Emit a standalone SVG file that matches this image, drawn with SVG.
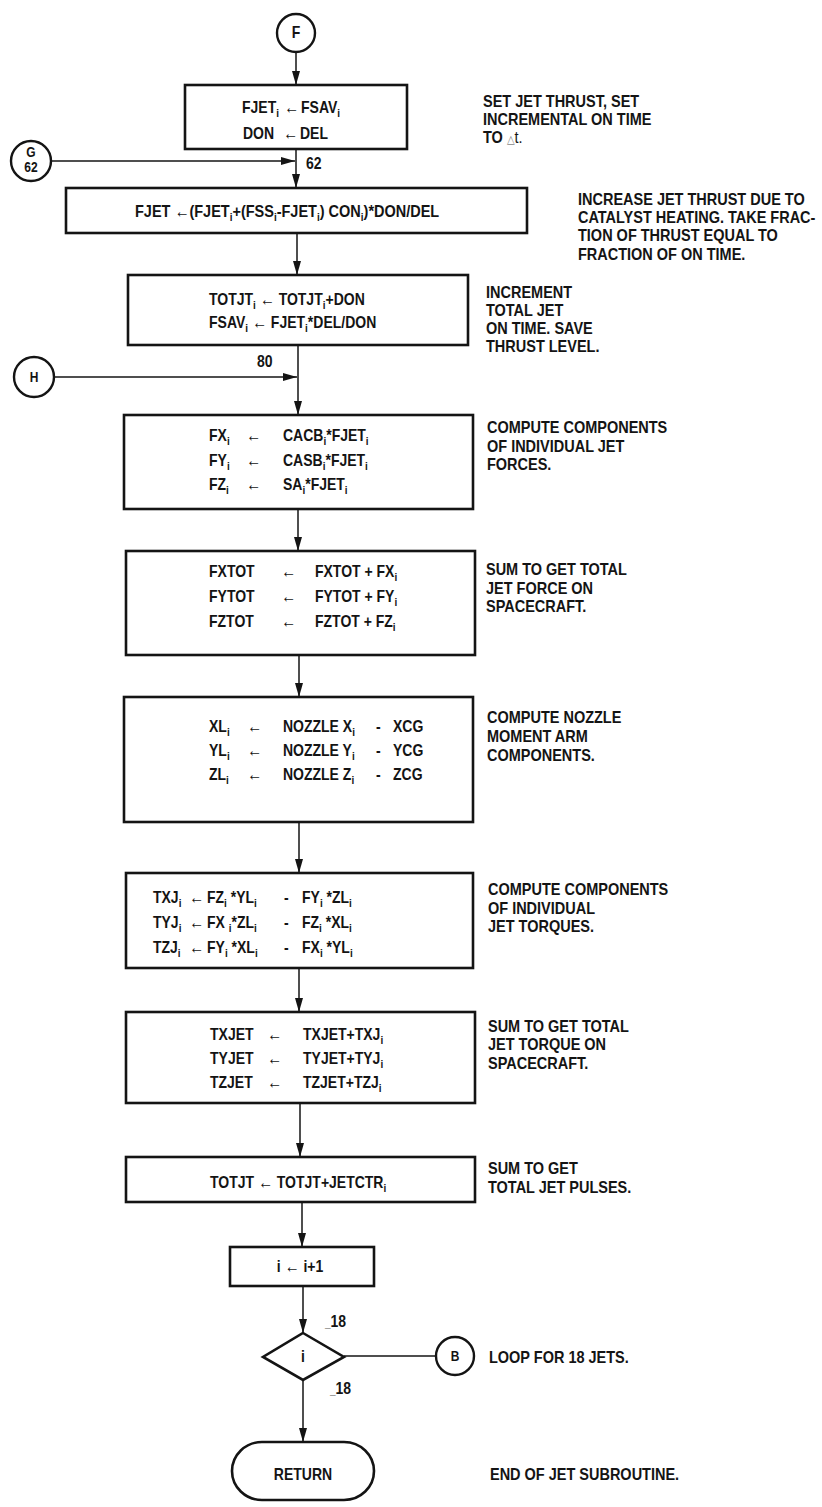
<svg xmlns="http://www.w3.org/2000/svg" width="822" height="1507" viewBox="0 0 822 1507">
<style>
.box{fill:none;stroke:#141414;stroke-width:2.6}
.cir{fill:#fff;stroke:#141414;stroke-width:2.4}
.ln{fill:none;stroke:#141414;stroke-width:1.5}
text{font-family:"Liberation Sans",Arial,"DejaVu Sans",sans-serif;font-weight:bold;font-size:14px;fill:#141414;transform-box:fill-box;transform-origin:0 81%;transform:scale(1,1.15)}
.nt{font-size:14.5px}
.ar{font-weight:normal;font-size:15px}
.c{text-anchor:middle}
.s{font-size:10px}
.sm{font-size:12px}
.tri{font-weight:normal;font-size:10px;fill:#888}
.tt{font-weight:normal}
</style>
<defs>
<marker id="ah" markerUnits="userSpaceOnUse" viewBox="0 0 14 8" refX="14" refY="4" markerWidth="14" markerHeight="8" orient="auto">
<path d="M0,0 L14,4 L0,8 z" fill="#141414"/>
</marker>
</defs>
<rect x="0" y="0" width="822" height="1507" fill="#fff"/>

<g id="connectors">
<line class="ln" x1="296" y1="52" x2="296" y2="85" marker-end="url(#ah)"/>
<line class="ln" x1="51" y1="161" x2="295" y2="161" marker-end="url(#ah)"/>
<line class="ln" x1="296" y1="149" x2="296" y2="188" marker-end="url(#ah)"/>
<line class="ln" x1="297" y1="233" x2="297" y2="275" marker-end="url(#ah)"/>
<line class="ln" x1="54" y1="377" x2="297" y2="377" marker-end="url(#ah)"/>
<line class="ln" x1="298" y1="345" x2="298" y2="415" marker-end="url(#ah)"/>
<line class="ln" x1="298" y1="509" x2="298" y2="551" marker-end="url(#ah)"/>
<line class="ln" x1="299" y1="655" x2="299" y2="697" marker-end="url(#ah)"/>
<line class="ln" x1="299" y1="822" x2="299" y2="873" marker-end="url(#ah)"/>
<line class="ln" x1="299" y1="968" x2="299" y2="1012" marker-end="url(#ah)"/>
<line class="ln" x1="300" y1="1103" x2="300" y2="1157" marker-end="url(#ah)"/>
<line class="ln" x1="302" y1="1202" x2="302" y2="1247" marker-end="url(#ah)"/>
<line class="ln" x1="303" y1="1286" x2="303" y2="1333" marker-end="url(#ah)"/>
<line class="ln" x1="344" y1="1356" x2="436" y2="1356"/>
<line class="ln" x1="303" y1="1380" x2="303" y2="1442" marker-end="url(#ah)"/>
<text x="306" y="169">62</text>
<text x="257" y="367">80</text>
<text x="325" y="1327"><tspan class="s">_</tspan>18</text>
<text x="330" y="1394"><tspan class="s">_</tspan>18</text>
</g>

<g id="nodeF">
<circle class="cir" cx="296" cy="33" r="19"/>
<text class="c" x="296" y="38">F</text>
</g>

<g id="box1">
<rect class="box" x="185" y="85" width="222" height="64"/>
<text x="242" y="113">FJET<tspan class="s" dy="4">i</tspan></text>
<text class="ar" x="284" y="113">←</text>
<text x="301" y="113">FSAV<tspan class="s" dy="4">i</tspan></text>
<text x="243" y="139">DON</text>
<text class="ar" x="283" y="139">←</text>
<text x="300" y="139">DEL</text>
<text class="nt" x="483" y="107">SET JET THRUST, SET</text>
<text class="nt" x="483" y="125">INCREMENTAL ON TIME</text>
<text class="nt" x="483" y="143">TO <tspan class="tri">△</tspan><tspan class="tt">t.</tspan></text>
</g>

<g id="nodeG">
<circle class="cir" cx="31" cy="161" r="20"/>
<text class="c sm" x="31" y="157">G</text>
<text class="c sm" x="31" y="172">62</text>
</g>

<g id="box2">
<rect class="box" x="66" y="188" width="461" height="45"/>
<text class="nt" x="135" y="217">FJET <tspan class="ar">←</tspan>(FJET<tspan class="s" dy="4">i</tspan><tspan dy="-4">+(FSS</tspan><tspan class="s" dy="4">i</tspan><tspan dy="-4">-FJET</tspan><tspan class="s" dy="4">i</tspan><tspan dy="-4">) CON</tspan><tspan class="s" dy="4">i</tspan><tspan dy="-4">)*DON/DEL</tspan></text>
<text class="nt" x="578" y="205">INCREASE JET THRUST DUE TO</text>
<text class="nt" x="578" y="223">CATALYST HEATING. TAKE FRAC-</text>
<text class="nt" x="578" y="241">TION OF THRUST EQUAL TO</text>
<text class="nt" x="578" y="260">FRACTION OF ON TIME.</text>
</g>

<g id="box3">
<rect class="box" x="128" y="275" width="340" height="70"/>
<text x="209" y="305">TOTJT<tspan class="s" dy="4">i</tspan><tspan dy="-4"> </tspan><tspan class="ar">←</tspan> TOTJT<tspan class="s" dy="4">i</tspan><tspan dy="-4">+DON</tspan></text>
<text x="209" y="328">FSAV<tspan class="s" dy="4">i</tspan><tspan dy="-4"> </tspan><tspan class="ar">←</tspan> FJET<tspan class="s" dy="4">i</tspan><tspan dy="-4">*DEL/DON</tspan></text>
<text class="nt" x="486" y="298">INCREMENT</text>
<text class="nt" x="486" y="316">TOTAL JET</text>
<text class="nt" x="486" y="334">ON TIME. SAVE</text>
<text class="nt" x="486" y="352">THRUST LEVEL.</text>
</g>

<g id="nodeH">
<circle class="cir" cx="34" cy="377" r="20"/>
<text class="c sm" x="34" y="382">H</text>
</g>

<g id="box4">
<rect class="box" x="124" y="415" width="349" height="94"/>
<text x="209" y="441">FX<tspan class="s" dy="4">i</tspan></text>
<text class="ar" x="246" y="441">←</text>
<text x="283" y="441">CACB<tspan class="s" dy="4">i</tspan><tspan dy="-4">*FJET</tspan><tspan class="s" dy="4">i</tspan></text>
<text x="209" y="466">FY<tspan class="s" dy="4">i</tspan></text>
<text class="ar" x="246" y="466">←</text>
<text x="283" y="466">CASB<tspan class="s" dy="4">i</tspan><tspan dy="-4">*FJET</tspan><tspan class="s" dy="4">i</tspan></text>
<text x="209" y="490">FZ<tspan class="s" dy="4">i</tspan></text>
<text class="ar" x="246" y="490">←</text>
<text x="283" y="490">SA<tspan class="s" dy="4">i</tspan><tspan dy="-4">*FJET</tspan><tspan class="s" dy="4">i</tspan></text>
<text class="nt" x="487" y="433">COMPUTE COMPONENTS</text>
<text class="nt" x="487" y="452">OF INDIVIDUAL JET</text>
<text class="nt" x="487" y="470">FORCES.</text>
</g>

<g id="box5">
<rect class="box" x="126" y="551" width="349" height="104"/>
<text x="209" y="577">FXTOT</text>
<text class="ar" x="281" y="577">←</text>
<text x="315" y="577">FXTOT + FX<tspan class="s" dy="4">i</tspan></text>
<text x="209" y="602">FYTOT</text>
<text class="ar" x="281" y="602">←</text>
<text x="315" y="602">FYTOT + FY<tspan class="s" dy="4">i</tspan></text>
<text x="209" y="627">FZTOT</text>
<text class="ar" x="281" y="627">←</text>
<text x="315" y="627">FZTOT + FZ<tspan class="s" dy="4">i</tspan></text>
<text class="nt" x="486" y="575">SUM TO GET TOTAL</text>
<text class="nt" x="486" y="594">JET FORCE ON</text>
<text class="nt" x="486" y="612">SPACECRAFT.</text>
</g>

<g id="box6">
<rect class="box" x="124" y="697" width="349" height="125"/>
<text x="209" y="732">XL<tspan class="s" dy="4">i</tspan></text>
<text class="ar" x="247" y="732">←</text>
<text x="283" y="732">NOZZLE X<tspan class="s" dy="4">i</tspan></text>
<text x="376" y="732">-</text>
<text x="393" y="732">XCG</text>
<text x="209" y="756">YL<tspan class="s" dy="4">i</tspan></text>
<text class="ar" x="247" y="756">←</text>
<text x="283" y="756">NOZZLE Y<tspan class="s" dy="4">i</tspan></text>
<text x="376" y="756">-</text>
<text x="393" y="756">YCG</text>
<text x="209" y="780">ZL<tspan class="s" dy="4">i</tspan></text>
<text class="ar" x="247" y="780">←</text>
<text x="283" y="780">NOZZLE Z<tspan class="s" dy="4">i</tspan></text>
<text x="376" y="780">-</text>
<text x="393" y="780">ZCG</text>
<text class="nt" x="487" y="723">COMPUTE NOZZLE</text>
<text class="nt" x="487" y="742">MOMENT ARM</text>
<text class="nt" x="487" y="761">COMPONENTS.</text>
</g>

<g id="box7">
<rect class="box" x="126" y="873" width="347" height="95"/>
<text x="153" y="903">TXJ<tspan class="s" dy="4">i</tspan></text>
<text class="ar" x="189" y="903">←</text>
<text x="207" y="903">FZ<tspan class="s" dy="4">i</tspan><tspan dy="-4"> *YL</tspan><tspan class="s" dy="4">i</tspan></text>
<text x="284" y="903">-</text>
<text x="302" y="903">FY<tspan class="s" dy="4">i</tspan><tspan dy="-4"> *ZL</tspan><tspan class="s" dy="4">i</tspan></text>
<text x="153" y="928">TYJ<tspan class="s" dy="4">i</tspan></text>
<text class="ar" x="189" y="928">←</text>
<text x="207" y="928">FX <tspan class="s" dy="4">i</tspan><tspan dy="-4">*ZL</tspan><tspan class="s" dy="4">i</tspan></text>
<text x="284" y="928">-</text>
<text x="302" y="928">FZ<tspan class="s" dy="4">i</tspan><tspan dy="-4"> *XL</tspan><tspan class="s" dy="4">i</tspan></text>
<text x="153" y="953">TZJ<tspan class="s" dy="4">i</tspan></text>
<text class="ar" x="189" y="953">←</text>
<text x="207" y="953">FY<tspan class="s" dy="4">i</tspan><tspan dy="-4"> *XL</tspan><tspan class="s" dy="4">i</tspan></text>
<text x="284" y="953">-</text>
<text x="302" y="953">FX<tspan class="s" dy="4">i</tspan><tspan dy="-4"> *YL</tspan><tspan class="s" dy="4">i</tspan></text>
<text class="nt" x="488" y="895">COMPUTE COMPONENTS</text>
<text class="nt" x="488" y="914">OF INDIVIDUAL</text>
<text class="nt" x="488" y="932">JET TORQUES.</text>
</g>

<g id="box8">
<rect class="box" x="126" y="1012" width="349" height="91"/>
<text x="210" y="1040">TXJET</text>
<text class="ar" x="267" y="1040">←</text>
<text x="303" y="1040">TXJET+TXJ<tspan class="s" dy="4">i</tspan></text>
<text x="210" y="1064">TYJET</text>
<text class="ar" x="267" y="1064">←</text>
<text x="303" y="1064">TYJET+TYJ<tspan class="s" dy="4">i</tspan></text>
<text x="210" y="1088">TZJET</text>
<text class="ar" x="267" y="1088">←</text>
<text x="303" y="1088">TZJET+TZJ<tspan class="s" dy="4">i</tspan></text>
<text class="nt" x="488" y="1032">SUM TO GET TOTAL</text>
<text class="nt" x="488" y="1050">JET TORQUE ON</text>
<text class="nt" x="488" y="1069">SPACECRAFT.</text>
</g>

<g id="box9">
<rect class="box" x="126" y="1157" width="349" height="45"/>
<text x="210" y="1188">TOTJT <tspan class="ar">←</tspan> TOTJT+JETCTR<tspan class="s" dy="4">i</tspan></text>
<text class="nt" x="488" y="1174">SUM TO GET</text>
<text class="nt" x="488" y="1193">TOTAL JET PULSES.</text>
</g>

<g id="box10">
<rect class="box" x="230" y="1247" width="144" height="39"/>
<text class="c" x="300" y="1272">i <tspan class="ar">←</tspan> i+1</text>
</g>

<g id="decision">
<polygon class="box" points="303,1333 344,1357 303,1380 263,1357"/>
<text class="c" x="303" y="1362">i</text>
<text class="nt" x="489" y="1363">LOOP FOR 18 JETS.</text>
</g>

<g id="nodeB">
<circle class="cir" cx="455" cy="1356" r="19"/>
<text class="c sm" x="455" y="1361">B</text>
</g>

<g id="return">
<rect class="box" x="232" y="1442" width="142" height="58" rx="30" ry="29"/>
<text class="c" x="303" y="1480">RETURN</text>
<text class="nt" x="490" y="1480">END OF JET SUBROUTINE.</text>
</g>
</svg>
